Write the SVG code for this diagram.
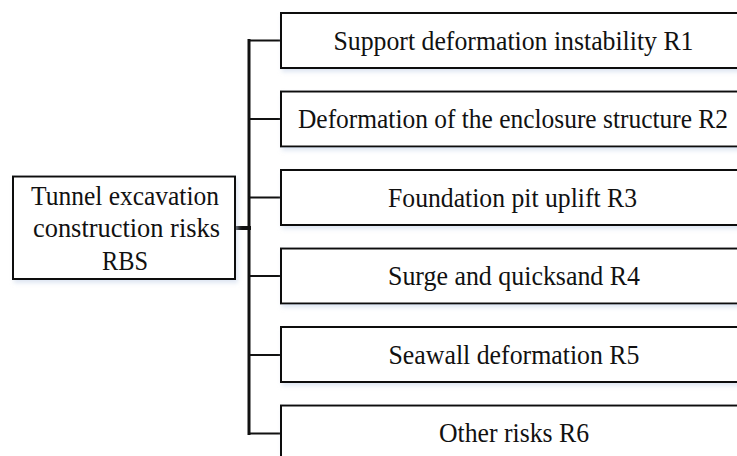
<svg xmlns="http://www.w3.org/2000/svg" width="737" height="456" viewBox="0 0 737 456">
<style>
.box{fill:#ffffff;stroke:#111111;stroke-width:2;filter:url(#sh)}
.t{font-family:"Liberation Serif","Times New Roman",serif;font-size:26.5px;fill:#111111;text-anchor:middle}
.ln{stroke:#111111;fill:none;stroke-linecap:square}
</style>
<defs>
<filter id="sh" x="-5%" y="-10%" width="115%" height="130%">
<feDropShadow dx="2" dy="3" stdDeviation="2" flood-color="#c9d6ea" flood-opacity="0.6"/>
</filter>
</defs>
<rect width="737" height="456" fill="#ffffff"/>
<g id="connectors">
<line class="ln" x1="249" y1="40.5" x2="249" y2="433.5" stroke-width="3"/>
<line class="ln" x1="235" y1="228" x2="249" y2="228" stroke-width="4"/>
<line class="ln" x1="249" y1="40.5" x2="281" y2="40.5" stroke-width="2"/>
<line class="ln" x1="249" y1="119" x2="281" y2="119" stroke-width="2"/>
<line class="ln" x1="249" y1="197.5" x2="281" y2="197.5" stroke-width="2"/>
<line class="ln" x1="249" y1="276" x2="281" y2="276" stroke-width="2"/>
<line class="ln" x1="249" y1="355" x2="281" y2="355" stroke-width="2"/>
<line class="ln" x1="249" y1="433.5" x2="281" y2="433.5" stroke-width="2"/>
</g>
<g id="root">
<rect class="box" x="13" y="176.5" width="222" height="102.5"/>
<text class="t" x="125" y="204.5" textLength="188" lengthAdjust="spacingAndGlyphs">Tunnel excavation</text>
<text class="t" x="126.5" y="237" textLength="187" lengthAdjust="spacingAndGlyphs">construction risks</text>
<text class="t" x="125" y="269.5" textLength="46" lengthAdjust="spacingAndGlyphs">RBS</text>
</g>
<g id="r1">
<rect class="box" x="281" y="13" width="470" height="55"/>
<text class="t" x="513.5" y="49.5" textLength="360" lengthAdjust="spacingAndGlyphs">Support deformation instability R1</text>
</g>
<g id="r2">
<rect class="box" x="281" y="91.5" width="470" height="55"/>
<text class="t" x="513" y="128" textLength="430" lengthAdjust="spacingAndGlyphs">Deformation of the enclosure structure R2</text>
</g>
<g id="r3">
<rect class="box" x="281" y="170" width="470" height="55"/>
<text class="t" x="512.5" y="206.5" textLength="249" lengthAdjust="spacingAndGlyphs">Foundation pit uplift R3</text>
</g>
<g id="r4">
<rect class="box" x="281" y="248.5" width="470" height="55"/>
<text class="t" x="514" y="285" textLength="252" lengthAdjust="spacingAndGlyphs">Surge and quicksand R4</text>
</g>
<g id="r5">
<rect class="box" x="281" y="327" width="470" height="55"/>
<text class="t" x="514" y="363.5" textLength="251" lengthAdjust="spacingAndGlyphs">Seawall deformation R5</text>
</g>
<g id="r6">
<rect class="box" x="281" y="405.5" width="470" height="55"/>
<text class="t" x="514" y="442" textLength="150" lengthAdjust="spacingAndGlyphs">Other risks R6</text>
</g>
</svg>
